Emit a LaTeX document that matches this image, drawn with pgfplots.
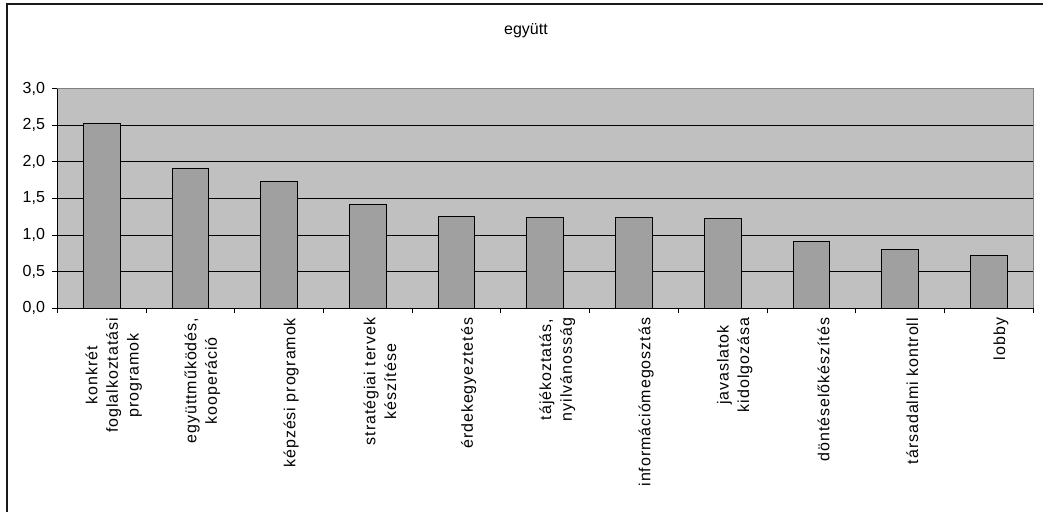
\documentclass[border=0pt]{standalone}
\usepackage{pgfplots}
\pgfplotsset{compat=1.18}
\usepackage{fontspec}
\setmainfont{Liberation Sans}
\newfontfamily\lblfont[LetterSpace=6]{Liberation Sans}
\definecolor{plotbg}{HTML}{C0C0C0}
\definecolor{barfill}{HTML}{A0A0A0}
\definecolor{framegray}{HTML}{808080}
\begin{document}
\begin{tikzpicture}
\useasboundingbox (-43pt,-152.8pt) rectangle (739.3pt,231.2pt);
\draw[line width=1.5pt,black!90] (-37.7pt,-152.8pt) -- (-37.7pt,228.4pt) -- (739.3pt,228.4pt);
\node[font=\fontsize{12}{14}\selectfont] at (351.5pt,208.5pt) {együtt};
\begin{axis}[
  at={(0,0)}, anchor=south west,
  scale only axis, width=732pt, height=164.7pt,
  xmin=-0.5, xmax=10.5, ymin=0, ymax=3,
  axis background/.style={fill=plotbg},
  axis x line*=bottom, axis y line*=left,
  axis line style={black, line width=0.75pt, -},
  ytick={0,0.5,...,3},
  ymajorgrids, grid style={black, line width=0.75pt},
  yticklabel style={font=\fontsize{12}{14}\selectfont, xshift=-2pt, /pgf/number format/.cd, fixed, fixed zerofill, precision=1, use comma, assume math mode=true},
  tick align=outside,
  major tick length=3.75pt,
  tick style={black, line width=0.75pt},
  xtick={0,...,10},
  x tick style={draw=none},
  minor xtick={-0.5,0.5,...,10.5},
  minor x tick style={draw=black, line width=0.75pt},
  minor tick length=3.75pt,
  xticklabels={{konkrét\\foglalkoztatási\\programok},{együttműködés,\\kooperáció},{képzési programok},{stratégiai tervek\\készítése},{érdekegyeztetés},{tájékoztatás,\\nyilvánosság},{információmegosztás},{javaslatok\\kidolgozása},{döntéselőkészítés},{társadalmi kontroll},{lobby}},
  xticklabel style={rotate=90, anchor=east, align=center, font=\lblfont\fontsize{12}{15.5}\selectfont, yshift=-9pt},
  clip=false,
]
\addplot[ybar, bar width=27.5pt, fill=barfill, draw=black, line width=0.75pt] coordinates {
(0,2.52) (1,1.91) (2,1.73) (3,1.42) (4,1.26) (5,1.24) (6,1.24) (7,1.22) (8,0.915) (9,0.80) (10,0.72)};
\draw[framegray, line width=0.75pt] (rel axis cs:0,1) -- (rel axis cs:1,1) -- (rel axis cs:1,0);
\end{axis}
\end{tikzpicture}
\end{document}
